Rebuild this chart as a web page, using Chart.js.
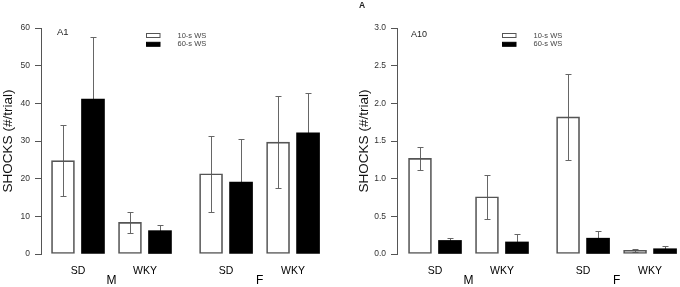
<!DOCTYPE html>
<html>
<head>
<meta charset="utf-8">
<script src="https://cdn.jsdelivr.net/npm/chart.js@4/dist/chart.umd.min.js"></script>
<style>
  html, body { margin: 0; padding: 0; background: #fff; }
  #wrap { position: relative; width: 680px; height: 287px; }
  canvas { position: absolute; top: 0; }
</style>
</head>
<body>
<div id="wrap">
  <canvas id="a1" width="340" height="287" style="left:0"></canvas>
  <canvas id="a10" width="340" height="287" style="left:340px"></canvas>
</div>
<script>
const strains = ["SD", "WKY", "SD", "WKY"];
const sexes = ["M", "M", "F", "F"];
const seriesLabels = ["10-s WS", "60-s WS"];

// panel A1
const a1Short = [24.8, 8.4, 21.3, 29.7];
const a1ShortSe = [9.4, 2.8, 10.1, 12.3];
const a1Long = [41.1, 6.2, 19.1, 32.2];
const a1LongSe = [16.6, 1.5, 11.5, 10.5];

// panel A10
const a10Short = [1.27, 0.76, 1.82, 0.05];
const a10ShortSe = [0.15, 0.29, 0.57, 0.02];
const a10Long = [0.18, 0.16, 0.21, 0.07];
const a10LongSe = [0.03, 0.10, 0.10, 0.03];

const FONT = "'Liberation Sans', Arial, sans-serif";
const SEX_GAP = 0.21; // extra space between the M and F groups
const groupPos = strains.map((s, i) => i + (sexes[i] === "F" ? SEX_GAP : 0));

// error bars go under the bars so the black fill hides the lower half
const errorBars = {
  id: "errorBars",
  beforeDatasetsDraw(chart) {
    const ctx = chart.ctx;
    const y = chart.scales.y;
    ctx.save();
    ctx.strokeStyle = "#666";
    ctx.lineWidth = 1;
    chart.data.datasets.forEach((ds, di) => {
      chart.getDatasetMeta(di).data.forEach((bar, i) => {
        const v = ds.data[i].y;
        const e = ds.errors[i];
        const x = Math.round(bar.x) + 0.5;
        const top = Math.round(y.getPixelForValue(v + e)) + 0.5;
        const bot = Math.round(y.getPixelForValue(v - e)) + 0.5;
        ctx.beginPath();
        ctx.moveTo(x, top); ctx.lineTo(x, bot);
        ctx.moveTo(x - 3, top); ctx.lineTo(x + 3, top);
        ctx.moveTo(x - 3, bot); ctx.lineTo(x + 3, bot);
        ctx.stroke();
      });
    });
    ctx.restore();
  },
};

const decor = {
  id: "decor",
  afterDraw(chart, args, opts) {
    const ctx = chart.ctx;
    const area = chart.chartArea;
    const xs = chart.scales.x;
    ctx.save();
    // legend
    chart.data.datasets.forEach((ds, i) => {
      const bx = area.left + 105.5;
      const by = 35.5 + i * 8.8;
      ctx.fillStyle = ds.backgroundColor;
      ctx.fillRect(bx, by - 2, 13.5, 4);
      ctx.strokeStyle = ds.borderColor;
      ctx.lineWidth = 1;
      ctx.strokeRect(bx, by - 2, 13.5, 4);
      ctx.fillStyle = "#444";
      ctx.font = "7.5px " + FONT;
      ctx.textAlign = "left";
      ctx.textBaseline = "middle";
      ctx.fillText(ds.label, bx + 31, by);
    });
    // panel name
    ctx.fillStyle = "#222";
    ctx.font = opts.nameSize + "px " + FONT;
    ctx.textBaseline = "middle";
    ctx.fillText(opts.name, area.left + opts.nameX, opts.nameY);
    if (opts.letter) {
      ctx.font = "bold 8.5px " + FONT;
      ctx.fillText(opts.letter, 19, 6);
    }
    // sex labels under each pair of strains
    ctx.fillStyle = "#000";
    ctx.font = "12px " + FONT;
    ctx.textAlign = "center";
    for (let i = 0; i < strains.length; i += 2) {
      const mid = (xs.getPixelForValue(groupPos[i]) + xs.getPixelForValue(groupPos[i + 1])) / 2;
      ctx.fillText(sexes[i], mid, 281);
    }
    ctx.restore();
  },
};

function makePanel(id, p) {
  const datasets = [
    {
      label: seriesLabels[0],
      data: groupPos.map((x, i) => ({ x, y: p.short[i] })),
      errors: p.shortSe,
      backgroundColor: "rgba(255,255,255,0)",
      borderColor: "#555",
      borderWidth: 1,
      borderSkipped: false,
    },
    {
      label: seriesLabels[1],
      data: groupPos.map((x, i) => ({ x, y: p.long[i] })),
      errors: p.longSe,
      backgroundColor: "#000",
      borderColor: "#000",
      borderWidth: 0,
    },
  ];
  return new Chart(document.getElementById(id), {
    type: "bar",
    data: { datasets },
    plugins: [errorBars, decor],
    options: {
      responsive: false,
      animation: false,
      devicePixelRatio: 1,
      layout: { padding: { top: 28, left: p.padLeft, right: p.padRight, bottom: 0 } },
      datasets: { bar: { barThickness: 30, maxBarThickness: 23 } },
      plugins: {
        legend: { display: false },
        tooltip: { enabled: false },
        decor: { name: p.name, nameX: p.nameX, nameY: p.nameY, nameSize: p.nameSize, letter: p.letter },
      },
      scales: {
        x: {
          type: "linear",
          offset: false,
          min: p.xMin,
          max: p.xMax,
          grid: { display: false, drawTicks: false },
          border: { display: false },
          afterBuildTicks: (scale) => {
            scale.ticks = groupPos.map((v) => ({ value: v }));
          },
          afterFit: (scale) => { scale.height = 33; },
          ticks: {
            autoSkip: false,
            maxRotation: 0,
            padding: 10.5,
            color: "#000",
            font: { family: FONT, size: 10.5 },
            callback: (value, index) => strains[index],
          },
        },
        y: {
          min: 0,
          max: p.yMax,
          grid: { display: true, drawOnChartArea: false, drawTicks: true, tickLength: 6, color: "#555" },
          border: { display: true, color: "#555" },
          afterFit: (scale) => { scale.width = 41; },
          ticks: {
            stepSize: p.step,
            padding: 5,
            color: "#333",
            font: { family: FONT, size: 8.5 },
            callback: (value) => value.toFixed(p.decimals),
          },
          title: {
            display: true,
            text: "SHOCKS (#/trial)",
            color: "#111",
            padding: 0,
            font: { family: FONT, size: 13.5 },
          },
        },
      },
    },
  });
}

makePanel("a1", {
  short: a1Short, shortSe: a1ShortSe, long: a1Long, longSe: a1LongSe,
  yMax: 60, step: 10, decimals: 0,
  padLeft: 0, padRight: 4, xMin: -0.552, xMax: 3.851,
  name: "A1", nameX: 16, nameY: 32, nameSize: 9.5,
});

makePanel("a10", {
  short: a10Short, shortSe: a10ShortSe, long: a10Long, longSe: a10LongSe,
  yMax: 3, step: 0.5, decimals: 1,
  padLeft: 16, padRight: 0, xMin: -0.567, xMax: 3.657,
  name: "A10", nameX: 14, nameY: 35, nameSize: 9, letter: "A",
});
</script>
</body>
</html>
